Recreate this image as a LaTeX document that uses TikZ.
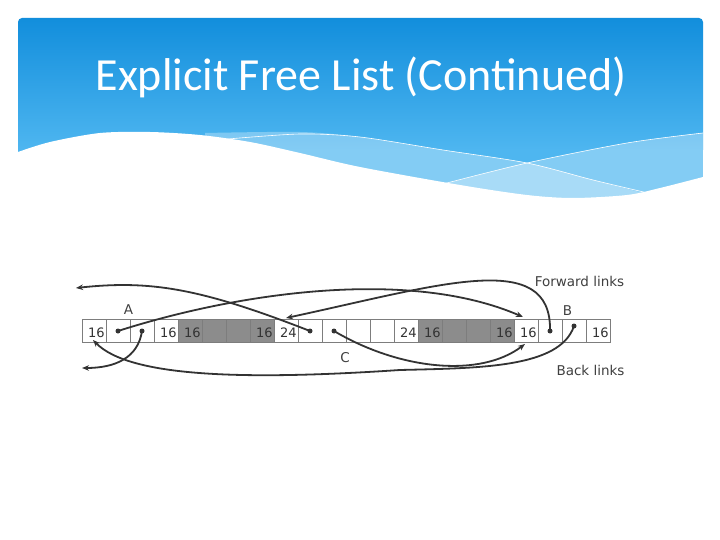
\documentclass[tikz,border=0pt]{standalone}
\usepackage{fontspec}
\setmainfont{DejaVu Sans}
\newfontfamily\titlefont{Carlito}
\usetikzlibrary{arrows.meta}
\definecolor{hdtop}{RGB}{18,142,220}
\definecolor{hdbot}{RGB}{78,182,240}
\definecolor{cellgray}{RGB}{140,140,140}
\definecolor{cellline}{RGB}{125,125,125}
\definecolor{ink}{RGB}{51,51,51}
\definecolor{lab}{RGB}{64,64,64}
\begin{document}
\begin{tikzpicture}[x=1pt,y=-1pt,
  cellbox/.style={draw=cellline, line width=0.8pt, fill=white, minimum width=24pt, minimum height=23.7pt, inner sep=0pt, outer sep=0pt},
  usedcell/.style={cellbox, fill=cellgray},
  num/.style={anchor=base east, inner sep=0pt, text=ink, font=\fontsize{13}{15}\selectfont},
  lbl/.style={anchor=base, inner sep=0pt, text=lab, font=\fontsize{13.5}{16}\selectfont},
  ptrdot/.style={circle, fill=ink, minimum size=5pt, inner sep=0pt},
  link/.style={draw=ink, line width=1.8pt, -{Stealth[length=7pt,width=5.5pt]}},
]
\useasboundingbox (0,0) rectangle (720,540);
\fill[white] (0,0) rectangle (720,540);
% header
\begin{scope}
\clip[rounded corners=4pt] (18,18) rectangle (703,260);
\shade[top color=hdtop, bottom color=hdbot] (18,18) rectangle (703,150);
\fill[hdbot] (18,149.5) rectangle (703,240);
\fill[white, opacity=0.3] plot[smooth] coordinates {(205,133) (300,132) (360,137) (443,150) (527,163) (593,180) (655,196)} -- (703,240) -- (205,240) -- cycle;
\fill[white, opacity=0.3] plot[smooth] coordinates {(440,185) (527,163) (627,143) (710,132)} -- (710,240) -- (440,240) -- cycle;
\fill[white] plot[smooth] coordinates {(18,152) (50,142) (100,133) (150,132) (200,135) (250,142) (300,153) (360,167) (460,185) (527,195) (573,198) (627,195) (660,188) (703,177)} -- (703,250) -- (18,250) -- cycle;
\draw[white, line width=0.6pt] plot[smooth] coordinates {(228,139) (300,134) (360,137) (443,150) (527,163) (593,180) (648,193)};
\draw[white, line width=0.6pt] plot[smooth] coordinates {(443,184) (527,163) (627,143) (703,133)};
\end{scope}
\fill[white] (0,205) rectangle (720,270);
\node[anchor=base, text=white, inner sep=0pt, font=\titlefont\fontsize{46}{54}\selectfont] (title) at (361,91) {Explicit Free List (Continued)};
% cells
\foreach \i in {0,1,2,3,8,9,10,11,12,13,18,19,20,21}
  \node[cellbox] (c\i) at ({94+24*\i},331) {};
\foreach \i in {4,5,6,7,14,15,16,17}
  \node[usedcell] (c\i) at ({94+24*\i},331) {};
% numbers
\path (c0.east) ++(-1.2,6) node[num] (n0) {16};
\path (c3.east) ++(-1.2,6) node[num] (n3) {16};
\path (c4.east) ++(-1.2,6) node[num] (n4) {16};
\path (c7.east) ++(-1.2,6) node[num] (n7) {16};
\path (c8.east) ++(-1.2,6) node[num] (n8) {24};
\path (c13.east) ++(-1.2,6) node[num] (n13) {24};
\path (c14.east) ++(-1.2,6) node[num] (n14) {16};
\path (c17.east) ++(-1.2,6) node[num] (n17) {16};
\path (c18.east) ++(-1.2,6) node[num] (n18) {16};
\path (c21.east) ++(-1.2,6) node[num] (n21) {16};
% labels
\node[lbl] (lA) at (128.5,314) {A};
\node[lbl] (lB) at (567.5,315) {B};
\node[lbl] (lC) at (345,362) {C};
\node[lbl] (lfw) at (579.5,286) {Forward links};
\node[lbl] (lbk) at (590.5,375) {Back links};
% pointer dots
\node[ptrdot] (pA1) at (c1.center) {};
\node[ptrdot] (pA2) at (c2.center) {};
\node[ptrdot] (pC1) at (c9.center) {};
\node[ptrdot] (pC2) at (c10.center) {};
\node[ptrdot] (pB1) at (c19.center) {};
\path (c20.center) ++(0,-5) node[ptrdot] (pB2) {};
% link ends
\coordinate (fL) at (76,288);
\coordinate (bL) at (82,368);
\coordinate (tCtop) at (286,318);
\coordinate (tBtop) at (523,317);
\coordinate (tBbot) at (525,344);
\coordinate (tAbot) at (93,340);
% forward links
\draw[link] (pC1.center) .. controls (200,288) and (150,280) .. (fL);
\draw[link] (pA1.center) .. controls (240,292) and (410,268) .. (tBtop);
\draw[link] (pB1.center) .. controls (552,248) and (440,285) .. (tCtop);
% back links
\draw[link] (pA2.center) .. controls (138,358) and (115,368) .. (bL);
\draw[link] (pB2.center) .. controls (560,368) and (480,368) .. (400,370) .. controls (250,380) and (130,378) .. (tAbot);
\draw[link] (pC2.center) .. controls (400,370) and (480,378) .. (tBbot);
\end{tikzpicture}
\end{document}
